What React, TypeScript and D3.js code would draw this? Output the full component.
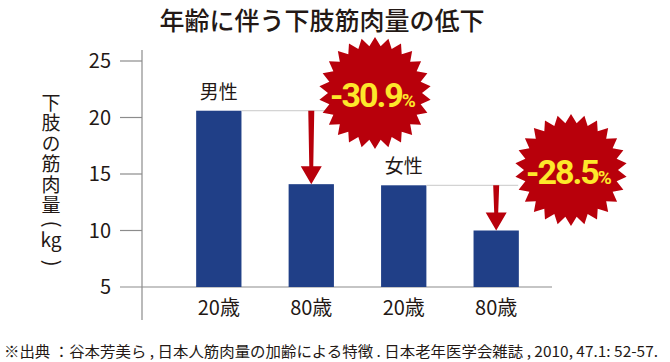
import React from 'react';
import * as d3 from 'd3';

const categories = ['男性20', '男性80', '女性20', '女性80'];
const ageLabels = ['20歳', '80歳', '20歳', '80歳'];
const values = [20.6, 14.1, 14.0, 10.0];
const groups = [
  { label: '男性', from: 0, to: 1, change: '-30.9' },
  { label: '女性', from: 2, to: 3, change: '-28.5' },
];
const yTicks = [5, 10, 15, 20, 25];

const W = 670;
const H = 362;
const RED = '#b8000b';
const BLUE = '#203f87';
const JP = '"Noto Sans CJK JP", "Noto Sans", sans-serif';

const x = d3.scaleBand<string>().domain(categories).range([149, 566]).padding(0.51);
const y = d3.scaleLinear().domain([5, 25]).range([287, 61]);

function starPath(cx: number, cy: number, r1: number, r2: number, n: number) {
  const pts: [number, number][] = d3.range(n * 2).map((i) => {
    const a = (Math.PI * i) / n;
    const r = i % 2 === 0 ? r1 : r2;
    return [cx + r * Math.sin(a), cy - r * Math.cos(a)];
  });
  return d3.line()(pts) + 'Z';
}

// starburst centres
const stars = [
  { cx: 375, cy: 93 },
  { cx: 571, cy: 170 },
];

export default function App() {
  const axisX = 142;
  const vert = { writingMode: 'vertical-rl' } as React.CSSProperties;
  return (
    <svg width={W} height={H} style={{ position: 'absolute', left: 0, top: 0 }}>
      <rect width={W} height={H} fill="#fff" />
      <text x={322} y={30} textAnchor="middle" fontFamily={JP} fontSize={25} fontWeight={500} fill="#231815">
        年齢に伴う下肢筋肉量の低下
      </text>

      {/* y axis */}
      <line x1={axisX} x2={axisX} y1={50} y2={320} stroke="#8c8c8c" strokeWidth={1.2} />
      {yTicks.map((t) => (
        <g key={t}>
          <line x1={120} x2={t === 5 ? 552 : axisX} y1={y(t)} y2={y(t)} stroke="#8c8c8c" strokeWidth={1.2} />
          <text x={111} y={y(t) + 7} textAnchor="end" fontFamily={JP} fontSize={20} fill="#231815">
            {t}
          </text>
        </g>
      ))}

      {/* y label, written vertically */}
      <g fontFamily={JP} fontSize={19} fill="#231815">
        <text x={51} y={93} style={vert} letterSpacing={1.5}>
          下肢の筋肉量
        </text>
        <g transform="translate(51,224) rotate(90)">
          <text x={0} y={6} textAnchor="middle" fontSize={20}>(</text>
        </g>
        <text x={51} y={247} textAnchor="middle">kg</text>
        <g transform="translate(51,263) rotate(90)">
          <text x={0} y={6} textAnchor="middle" fontSize={20}>)</text>
        </g>
      </g>

      {/* bars */}
      {categories.map((c, i) => (
        <rect key={c} x={x(c)} y={y(values[i])} width={x.bandwidth()} height={y(5) - y(values[i])} fill={BLUE} />
      ))}
      {categories.map((c, i) => (
        <text key={c} x={(x(c) as number) + x.bandwidth() / 2} y={315} textAnchor="middle" fontFamily={JP} fontSize={20} fill="#231815">
          {ageLabels[i]}
        </text>
      ))}

      {/* group annotations */}
      {groups.map((g, gi) => {
        const a = categories[g.from];
        const b = categories[g.to];
        const xa = x(a) as number;
        const xb = x(b) as number;
        const ax = xb + x.bandwidth() / 2;
        const y0 = y(values[g.from]);
        const y1 = y(values[g.to]);
        const s = stars[gi];
        return (
          <g key={g.label}>
            <text x={xa + x.bandwidth() / 2} y={y0 - 12} textAnchor="middle" fontFamily={JP} fontSize={19} fill="#231815">
              {g.label}
            </text>
            <line x1={xa + x.bandwidth()} x2={ax + 22} y1={y0} y2={y0} stroke="#c8c8c8" strokeWidth={1} />
            <path
              d={`M${ax - 3},${y0} L${ax + 3},${y0} L${ax + 2},${y1 - 18} L${ax + 10.5},${y1 - 18} L${ax},${y1} L${ax - 10.5},${y1 - 18} L${ax - 2},${y1 - 18} Z`}
              fill={RED}
            />
            <path d={starPath(s.cx, s.cy, 56, 47, 26)} fill={RED} />
            <text x={s.cx - 2} y={s.cy + 14} textAnchor="middle" fontFamily="Roboto, sans-serif" fontWeight={700} fill="#fde82b">
              <tspan fontSize={34} letterSpacing={-2}>{g.change}</tspan>
              <tspan fontSize={19}>%</tspan>
            </text>
          </g>
        );
      })}

      <text x={4} y={357} fontFamily={JP} fontSize={15} fill="#231815" textLength={654} lengthAdjust="spacingAndGlyphs">
        ※出典 ：谷本芳美ら , 日本人筋肉量の加齢による特徴 . 日本老年医学会雑誌 , 2010, 47.1: 52-57.
      </text>
    </svg>
  );
}
